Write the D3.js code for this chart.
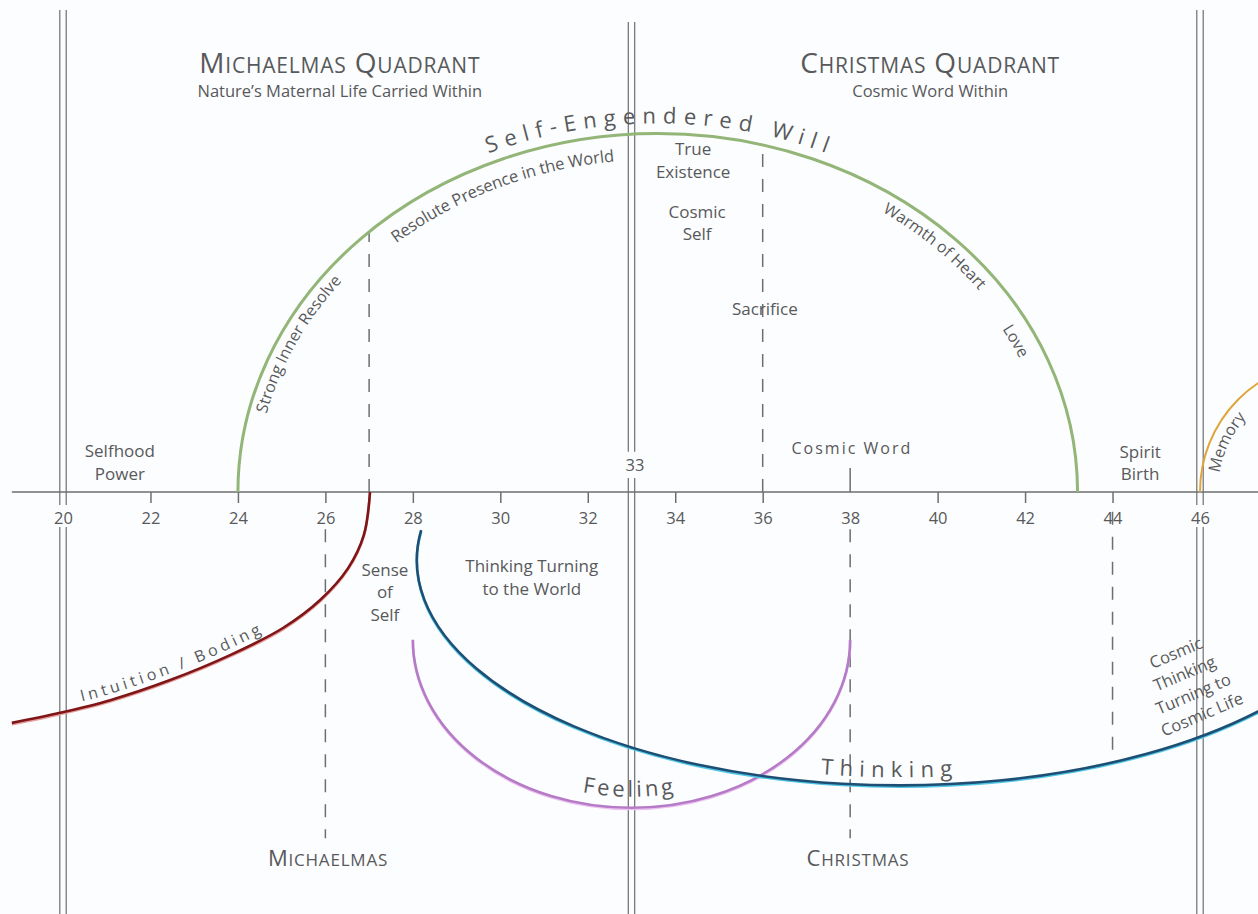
<!DOCTYPE html>
<html>
<head>
<meta charset="utf-8">
<script src="https://cdn.jsdelivr.net/npm/d3@7"></script>
<style>
  body { margin: 0; background: #fcfdfe; }
  svg { display: block; font-family: "Open Sans", sans-serif; }
</style>
</head>
<body>
<div id="chart"></div>
<script>
// weeks along the year line
const weeks = [20, 22, 24, 26, 28, 30, 32, 34, 36, 38, 40, 42, 44, 46];
const seasonWeeks = [20, 33, 46];

// arcs: week on x, level on y (0 = the year line)
const willArc = { name: "Self-Engendered Will", start: 24, end: 43.2, height: 8.2 };
const feelingArc = { name: "Feeling", start: 28, end: 38, level: -3.38, depth: 3.84 };
const thinkingArc = { name: "Thinking", start: [28.19, -0.87], end: [47.4, -4.98], rx: 11.05, ry: 5.15 };
const memoryArc = { name: "Memory", start: 46, radius: 3 };
const intuitionName = "Intuition / Boding";
const intuitionPts = [[18.83, -5.28], [19.93, -5.05], [21.08, -4.76], [22.45, -4.30], [23.82, -3.73],
  [25.03, -3.11], [25.88, -2.47], [26.52, -1.74], [26.88, -0.98], [27.02, 0]];

// dashed guides: week, from level, to level
const guides = [[27, 0, 5.95], [36, 0, 7.93], [26, -0.85, -7.92], [38, -0.85, -7.92], [44, -0.45, -6.13]];

// phases written along the will arc
const willPhases = ["Strong Inner Resolve", "Resolute Presence in the World", "Warmth of Heart", "Love"];

const quadrants = [
  { title: "Michaelmas Quadrant", sub: "Nature\u2019s Maternal Life Carried Within", week: 26.33 },
  { title: "Christmas Quadrant", sub: "Cosmic Word Within", week: 39.83 }
];
const festivals = [{ name: "Michaelmas", week: 26.06 }, { name: "Christmas", week: 38.18 }];

const notes = [
  { lines: ["Selfhood", "Power"], week: 21.30, level: 0.80 },
  { lines: ["True", "Existence"], week: 34.41, level: 7.70 },
  { lines: ["Cosmic", "Self"], week: 34.50, level: 6.27 },
  { lines: ["Sacrifice"], week: 36.05, level: 4.05 },
  { lines: ["Spirit", "Birth"], week: 44.63, level: 0.78 },
  { lines: ["Sense", "of", "Self"], week: 27.36, level: -1.92 },
  { lines: ["Thinking Turning", "to the World"], week: 30.72, level: -1.83 }
];
const cosmicLife = ["Cosmic", "Thinking", "Turning to", "Cosmic Life"];

const W = 1258, H = 914;
const ink = "#58595b", rule = "#6d6e71";

const x = d3.scaleLinear().domain([20, 46]).range([63, 1200]);
const unit = x(21) - x(20);
const y = d3.scaleLinear().domain([0, 1]).range([492, 492 - unit]);

const svg = d3.select("#chart").append("svg").attr("width", W).attr("height", H);
svg.append("rect").attr("width", W).attr("height", H).attr("fill", "#fcfdfe");
const defs = svg.append("defs");

// double season lines, broken where the numbers sit
const seasonSegs = { 20: [[11.02, -0.3], [-0.8, -9.7]], 33: [[10.75, 0.92], [0.32, -9.7]], 46: [[11.02, -0.3], [-0.8, -9.7]] };
seasonWeeks.forEach(w => {
  seasonSegs[w].forEach(([a, b]) => {
    [-3.2, 3.2].forEach(off => {
      svg.append("line")
        .attr("x1", x(w) + off).attr("x2", x(w) + off)
        .attr("y1", y(a)).attr("y2", y(b))
        .attr("stroke", rule).attr("stroke-width", 1.2);
    });
  });
});

// year line and ticks
svg.append("line")
  .attr("x1", x(intuitionPts[0][0])).attr("x2", W)
  .attr("y1", y(0)).attr("y2", y(0))
  .attr("stroke", rule).attr("stroke-width", 1.6);

const axis = svg.append("g")
  .attr("transform", `translate(0,${y(0)})`)
  .call(d3.axisBottom(x).tickValues(weeks).tickSize(11).tickPadding(9));
axis.attr("font-size", 16.5).attr("font-family", '"Open Sans", sans-serif');
axis.select(".domain").remove();
axis.selectAll(".tick text").attr("fill", ink);
axis.selectAll(".tick line").attr("stroke", rule).attr("stroke-width", 1.5)
  .filter(d => d === 20 || d === 46 || d === 38).remove();

svg.append("line")
  .attr("x1", x(38)).attr("x2", x(38)).attr("y1", y(0)).attr("y2", y(0.55))
  .attr("stroke", rule).attr("stroke-width", 1.5);

svg.append("text")
  .attr("x", x(33.08)).attr("y", y(0.48))
  .attr("text-anchor", "middle").attr("font-size", 16.5).attr("fill", ink)
  .text("33");

// dashed guides
svg.selectAll(".guide").data(guides).join("line")
  .attr("class", "guide")
  .attr("x1", d => x(d[0])).attr("x2", d => x(d[0]))
  .attr("y1", d => y(d[1])).attr("y2", d => y(d[2]))
  .attr("stroke", rule).attr("stroke-width", 1.5)
  .attr("stroke-dasharray", "13,12");

// curve paths
function halfEllipse(cx, cy, rx, ry, sweep) {
  return `M${cx - rx},${cy}A${rx},${ry} 0 0 ${sweep} ${cx + rx},${cy}`;
}

const cxW = (x(willArc.start) + x(willArc.end)) / 2;
const rxW = (x(willArc.end) - x(willArc.start)) / 2;
const ryW = y(0) - y(willArc.height);
const willD = halfEllipse(cxW, y(0), rxW, ryW, 1);
defs.append("path").attr("id", "willIn").attr("d", halfEllipse(cxW, y(0), rxW - 18, ryW - 18, 1));
defs.append("path").attr("id", "willOut").attr("d", halfEllipse(cxW, y(0), rxW + 10, ryW + 10, 1));

const cxF = (x(feelingArc.start) + x(feelingArc.end)) / 2;
const rxF = (x(feelingArc.end) - x(feelingArc.start)) / 2;
const ryF = y(feelingArc.level - feelingArc.depth) - y(feelingArc.level);
const feelingD = halfEllipse(cxF, y(feelingArc.level), rxF, ryF, 0);

const thinkingD = `M${x(thinkingArc.start[0])},${y(thinkingArc.start[1])}` +
  `A${thinkingArc.rx * unit},${thinkingArc.ry * unit} 0 0 0 ${x(thinkingArc.end[0])},${y(thinkingArc.end[1])}`;

const rM = memoryArc.radius * unit;
const memoryD = `M${x(memoryArc.start)},${y(0)}A${rM},${rM} 0 0 1 ${x(memoryArc.start + memoryArc.radius)},${y(memoryArc.radius)}`;
defs.append("path").attr("id", "memoryIn")
  .attr("d", `M${x(memoryArc.start) + 18},${y(0)}A${rM - 18},${rM - 18} 0 0 1 ${x(memoryArc.start + memoryArc.radius)},${y(memoryArc.radius) + 18}`);

const intuitionD = d3.line()
  .x(d => x(d[0])).y(d => y(d[1]))
  .curve(d3.curveCatmullRom.alpha(0.5))(intuitionPts);

function drawCurve(id, d, color, glow, width) {
  if (glow) {
    svg.append("path").attr("d", d).attr("fill", "none")
      .attr("stroke", glow).attr("stroke-width", width)
      .attr("transform", "translate(0,1.3)");
  }
  svg.append("path").attr("id", id).attr("d", d).attr("fill", "none")
    .attr("stroke", color).attr("stroke-width", width);
}

drawCurve("will", willD, "#93b577", null, 3);
drawCurve("memory", memoryD, "#e0a53a", null, 2);
drawCurve("intuition", intuitionD, "#7e1517", "#e89a9a", 2.6);
drawCurve("feeling", feelingD, "#b57bc6", "#ecc3f2", 2.6);
drawCurve("thinking", thinkingD, "#1d4f74", "#52c6e6", 2.6);

// text along a path, starting where test() first holds
function pathText(pathId, str, size, spacing, dy, test) {
  const node = document.getElementById(pathId);
  const total = node.getTotalLength();
  let off = 0;
  for (let l = 0; l <= total; l += 0.5) {
    if (test(node.getPointAtLength(l))) { off = l; break; }
  }
  svg.append("text")
    .attr("font-size", size).attr("fill", ink)
    .attr("letter-spacing", spacing).attr("dy", dy)
    .append("textPath").attr("href", "#" + pathId)
    .attr("startOffset", off).text(str);
}

pathText("willOut", willArc.name, 22, 7, 0, p => p.x >= x(29.72));
pathText("willIn", willPhases[0], 16, 0, 0, p => p.y <= y(1.78));
pathText("willIn", willPhases[1], 16.5, 0, 8, p => p.x >= x(27.5));
pathText("willIn", willPhases[2], 16, 0, 2, p => p.x >= x(38.75));
pathText("willIn", willPhases[3], 16, 0, 7, p => p.x >= x(41.6));
pathText("memoryIn", memoryArc.name, 16, 0, 0, p => p.y <= y(0.43));
pathText("intuition", intuitionName, 16, 3.8, -6, p => p.x >= x(20.46));
pathText("feeling", feelingArc.name, 22, 3.8, -11, p => p.x >= x(31.82));
pathText("thinking", thinkingArc.name, 22, 6.5, -8, p => p.x >= x(37.31));

// upright notes
notes.forEach(n => {
  const t = svg.append("text")
    .attr("x", x(n.week)).attr("y", y(n.level))
    .attr("text-anchor", "middle").attr("font-size", 17).attr("fill", ink);
  n.lines.forEach((s, i) => {
    t.append("tspan").attr("x", x(n.week)).attr("dy", i ? 22.5 : 0).text(s);
  });
});

svg.append("text")
  .attr("x", x(38.04)).attr("y", y(0.87))
  .attr("text-anchor", "middle").attr("font-size", 16)
  .attr("letter-spacing", 2).attr("fill", ink)
  .text("Cosmic Word");

const cl = svg.append("text")
  .attr("transform", `translate(${x(45.5)},${y(-3.8)}) rotate(-23)`)
  .attr("text-anchor", "middle").attr("font-size", 16.5).attr("fill", ink);
cosmicLife.forEach((s, i) => cl.append("tspan").attr("x", 0).attr("dy", i ? 22.3 : 0).text(s));

// small caps headings
function smallCaps(t, str, big, small) {
  str.split(" ").forEach((w, i) => {
    t.append("tspan").attr("font-size", big).text((i ? " " : "") + w[0].toUpperCase());
    t.append("tspan").attr("font-size", small).text(w.slice(1).toUpperCase());
  });
}

quadrants.forEach(q => {
  const t = svg.append("text")
    .attr("x", x(q.week)).attr("y", y(9.58))
    .attr("text-anchor", "middle").attr("fill", ink).attr("letter-spacing", 0.8);
  smallCaps(t, q.title, 28, 21);
  svg.append("text")
    .attr("x", x(q.week)).attr("y", y(9.03))
    .attr("text-anchor", "middle").attr("font-size", 16.5).attr("fill", ink)
    .text(q.sub);
});

festivals.forEach(f => {
  const t = svg.append("text")
    .attr("x", x(f.week)).attr("y", y(-8.55))
    .attr("text-anchor", "middle").attr("fill", ink).attr("letter-spacing", 0.8);
  smallCaps(t, f.name, 22, 17);
});
</script>
</body>
</html>
